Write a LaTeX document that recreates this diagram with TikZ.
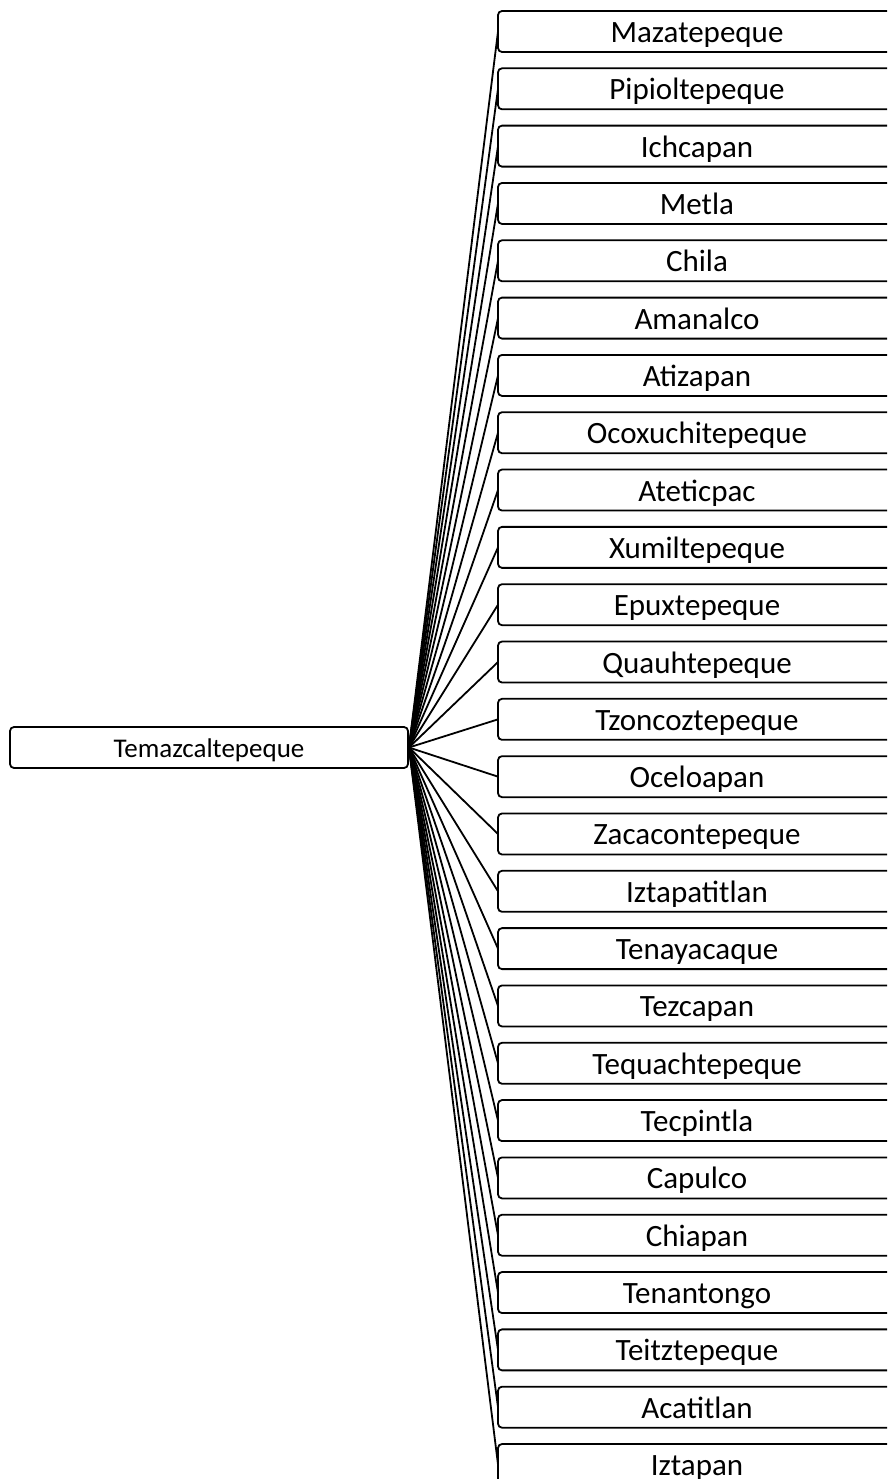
\documentclass[tikz,border=0pt]{standalone}
\usepackage{fontspec}
\setmainfont{Carlito}
\begin{document}
\begin{tikzpicture}[x=1pt,y=-1pt,
  box/.style={draw=black,line width=1.8pt,rounded corners=4pt,fill=white,minimum width=398pt,minimum height=41pt,inner sep=0pt,anchor=center},
  rootbox/.style={box,font=\fontsize{27}{30}\selectfont,text height=19pt,text depth=0pt},
  childbox/.style={box,font=\fontsize{31}{34}\selectfont,text height=22pt,text depth=0pt},
  link/.style={draw=black,line width=1.8pt}]
\useasboundingbox (0,0) rectangle (887,1479);
\clip (0,0) rectangle (887,1479);
\node[rootbox] (root) at (209,747.5) {Temazcaltepeque};
\foreach \name [count=\i from 0] in {Mazatepeque,Pipioltepeque,Ichcapan,Metla,Chila,Amanalco,Atizapan,Ocoxuchitepeque,Ateticpac,Xumiltepeque,Epuxtepeque,Quauhtepeque,Tzoncoztepeque,Oceloapan,Zacacontepeque,Iztapatitlan,Tenayacaque,Tezcapan,Tequachtepeque,Tecpintla,Capulco,Chiapan,Tenantongo,Teitztepeque,Acatitlan,Iztapan}{
  \coordinate (p\i) at (697-199,31.5+57.32*\i);
  \draw[link] (root.east) -- (p\i);
}
\foreach \name [count=\i from 0] in {Mazatepeque,Pipioltepeque,Ichcapan,Metla,Chila,Amanalco,Atizapan,Ocoxuchitepeque,Ateticpac,Xumiltepeque,Epuxtepeque,Quauhtepeque,Tzoncoztepeque,Oceloapan,Zacacontepeque,Iztapatitlan,Tenayacaque,Tezcapan,Tequachtepeque,Tecpintla,Capulco,Chiapan,Tenantongo,Teitztepeque,Acatitlan,Iztapan}{
  \node[childbox] (c\i) at (697,31.5+57.32*\i) {\name};
}
\end{tikzpicture}
\end{document}
